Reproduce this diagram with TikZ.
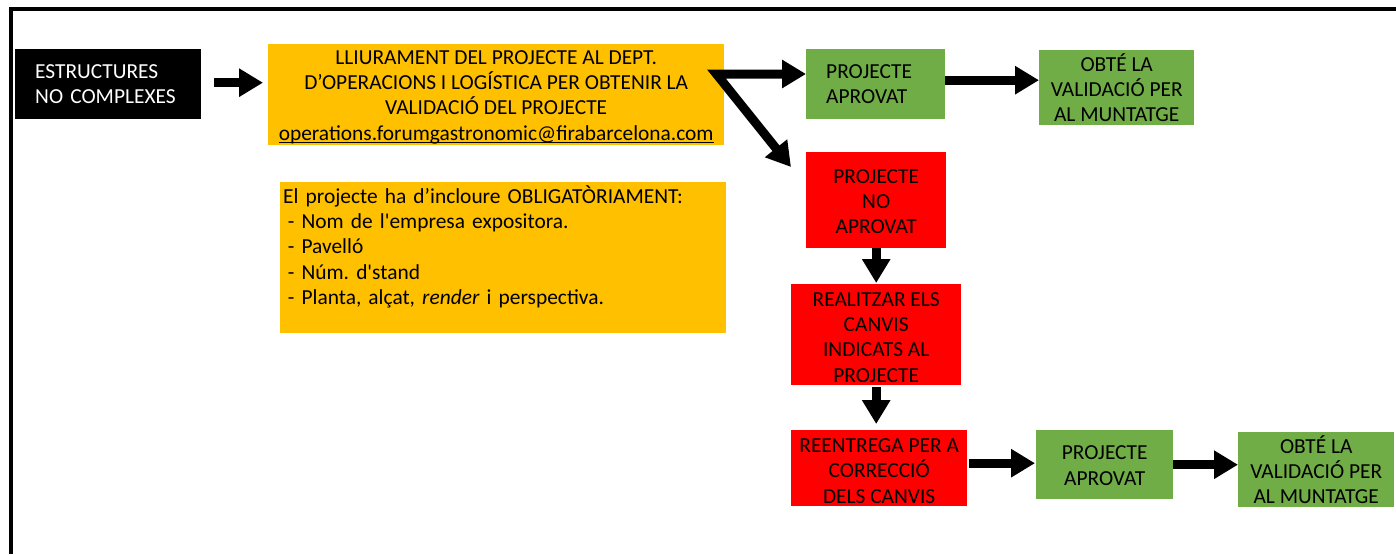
\documentclass[tikz,border=0pt]{standalone}
\usepackage{fontspec}
\setmainfont{Carlito}
\usetikzlibrary{arrows.meta,calc}
\definecolor{oyellow}{HTML}{FFC000}
\definecolor{ogreen}{HTML}{70AD47}
\definecolor{ored}{HTML}{FF0000}
\frenchspacing
\newcommand{\toppad}[1]{\rule{0pt}{#1}}
\newcommand{\myul}[1]{{\setbox0\hbox{#1}\rlap{\rule[-2.8pt]{\wd0}{1.3pt}}\box0}}
\begin{document}
\begin{tikzpicture}[x=1pt,y=-1pt,
  box/.style={rectangle, inner sep=0pt, anchor=north west, font=\fontsize{21.4}{25.3}\selectfont\frenchspacing, align=center},
  tipshape/.tip={Triangle[length=24pt,width=27pt]},
  bigarrow/.style={line width=9pt, -tipshape},
]
\useasboundingbox (0,0) rectangle (1396,554);
\draw[line width=4pt] (11,554) -- (11,9) -- (1396,9);

\node[box, fill=black, text=white, minimum width=186pt, minimum height=70pt, inner xsep=20pt, text width=146pt, align=left] (black) at (15,49) {ESTRUCTURES\\NO COMPLEXES};

\node[box, fill=oyellow, minimum width=456pt, minimum height=101pt] (yellow1) at (268,44) {\toppad{15pt}LLIURAMENT DEL PROJECTE AL DEPT.\\D’OPERACIONS I LOGÍSTICA PER OBTENIR LA\\VALIDACIÓ DEL PROJECTE\\\raisebox{0pt}[\height][0pt]{\myul{operations.forumgastronomic@firabarcelona.com}}};

\node[box, fill=oyellow, minimum width=446pt, minimum height=151pt, inner xsep=3pt, text width=440pt, align=left] (yellow2) at (280,182) {El projecte ha d’incloure OBLIGATÒRIAMENT:\\\hspace*{0.22em}- Nom de l\textquotesingle empresa expositora.\\\hspace*{0.22em}- Pavelló\\\hspace*{0.22em}- Núm. d\textquotesingle stand\\\hspace*{0.22em}- Planta, alçat, \textit{render} i perspectiva.\\\mbox{}};

\node[box, fill=ogreen, minimum width=139pt, minimum height=70pt, inner xsep=20pt, text width=99pt, align=left] (green1) at (806,49) {PROJECTE\\APROVAT};

\node[box, fill=ogreen, minimum width=155pt, minimum height=75pt] (green2) at (1039,50) {OBTÉ LA\\VALIDACIÓ PER\\AL MUNTATGE};

\node[box, fill=ored, minimum width=140pt, minimum height=96pt] (red1) at (806,152) {\toppad{17pt}PROJECTE\\NO\\APROVAT};

\node[box, fill=ored, minimum width=170pt, minimum height=101pt] (red2) at (791,284) {\toppad{19pt}REALITZAR ELS\\CANVIS\\INDICATS AL\\PROJECTE};

\node[box, fill=ored, minimum width=176pt, minimum height=76pt] (red3) at (791,430) {\toppad{19.5pt}REENTREGA PER A\\CORRECCIÓ\\DELS CANVIS};

\node[box, fill=ogreen, minimum width=137pt, minimum height=69pt] (green3) at (1036,430) {\toppad{16pt}PROJECTE\\APROVAT};

\node[box, fill=ogreen, minimum width=156pt, minimum height=75pt] (green4) at (1238,432) {OBTÉ LA\\VALIDACIÓ PER\\AL MUNTATGE};

\coordinate (split) at ($(yellow1.north east)+(-8,30)$);

\draw[bigarrow, shorten <=13pt, shorten >=5pt] ([yshift=1.5pt]black.east) -- ([yshift=1.5pt]black.east -| yellow1.west);
\draw[line width=9pt, tipshape-tipshape, line join=miter] (split -| green1.west) -- (split) -- ($(red1.north west)+(-15,15)$);
\draw[bigarrow] ([yshift=4pt]green1.east) -- ([yshift=4pt]green1.east -| green2.west);
\draw[bigarrow, shorten >=1pt] (red1.south) -- (red1.south |- red2.north);
\draw[bigarrow, shorten <=2pt, shorten >=6pt] (red2.south) -- (red2.south |- red3.north);
\draw[bigarrow, shorten <=2pt, shorten >=1pt] ([yshift=5pt]red3.east) -- ([yshift=5pt]red3.east -| green3.west);
\draw[bigarrow] (green3.east) -- (green3.east -| green4.west);
\end{tikzpicture}
\end{document}
